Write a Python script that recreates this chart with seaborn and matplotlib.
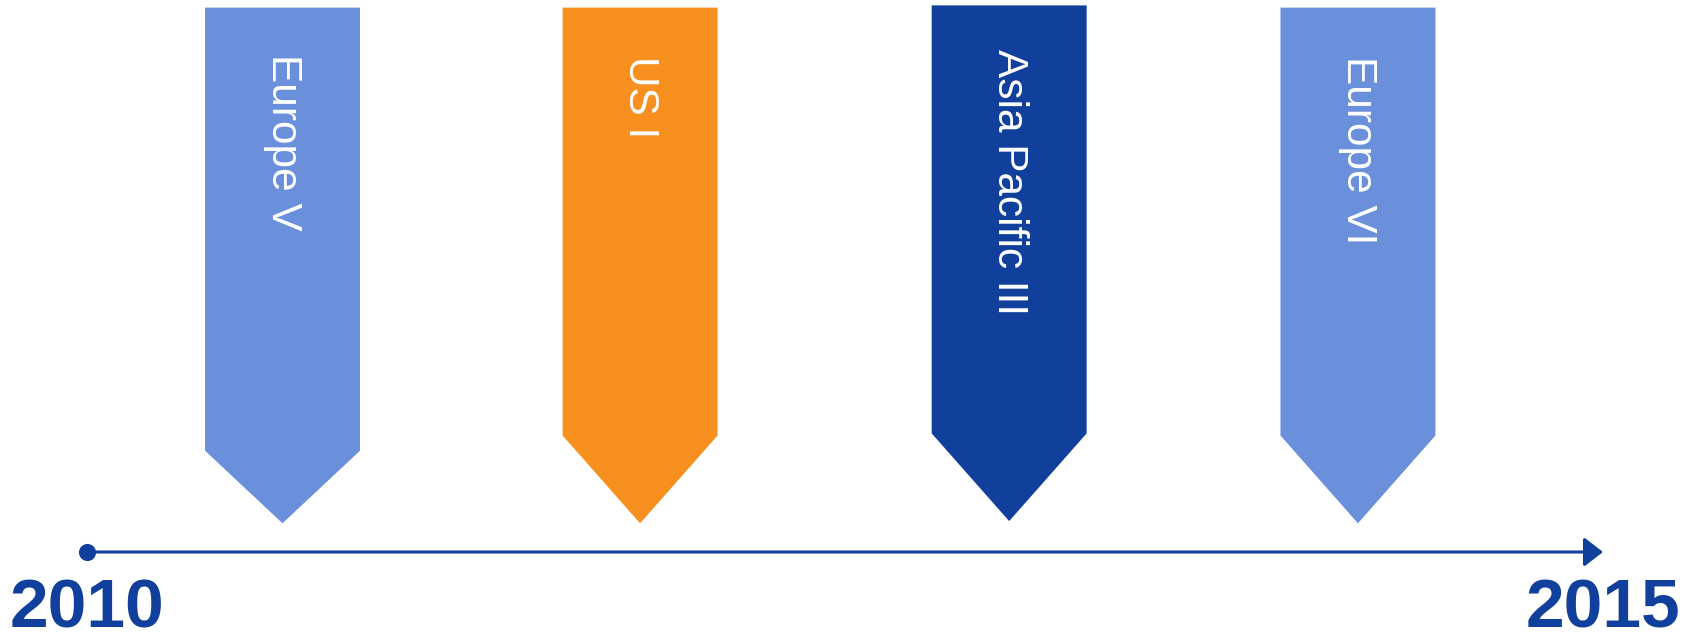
import seaborn as sns
import matplotlib.pyplot as plt

# datos del grafico (x en años, y en profundidad desde arriba)
etiquetas = ['Europe V', 'US I', 'Asia Pacific III', 'Europe VI']
posicion_anio = [2010.646, 2011.825, 2013.042, 2014.192]
colores = ['#6A90DB', '#F7901E', '#11409C', '#6A90DB']
arriba = [7.6, 7.6, 5.4, 7.6]
hombro = [450.7, 435.5, 433.4, 435.5]
punta = [523.3, 523.3, 521.1, 523.3]
inicio_texto = [54, 56, 49, 56]
anio_inicio = 2010
anio_fin = 2015
ancho = 0.511

azul = '#11409C'

sns.set_theme(style='white')
plt.rcParams['font.family'] = ['Liberation Sans', 'DejaVu Sans']

fig = plt.figure(figsize=(16.98, 6.36), dpi=100)
ax = fig.add_axes([0, 0, 1, 1])
# escala: 2010 en el punto, 2015 en la punta de la flecha
px_anio = (1603 - 86.6) / 5
ax.set_xlim(anio_inicio - 86.6 / px_anio, anio_inicio + (1698 - 86.6) / px_anio)
ax.set_ylim(636, 0)
ax.axis('off')

# banderines
for nombre, x, col, a, h, p, t in zip(etiquetas, posicion_anio, colores, arriba, hombro, punta, inicio_texto):
    izq = x - ancho / 2
    der = x + ancho / 2
    ax.fill([izq, der, der, x, izq], [a, a, h, p, h], color=col, lw=0)
    ax.text(x, t, nombre, rotation=-90, ha='center', va='top',
            fontsize=30.5, color='white')

# linea de tiempo
y_linea = 552
ax.annotate('', xy=(anio_fin, y_linea), xytext=(anio_inicio, y_linea),
            arrowprops=dict(arrowstyle='-|>,head_length=0.4,head_width=0.31',
                            mutation_scale=28.8, lw=2.2, color=azul,
                            shrinkA=0, shrinkB=0))
ax.plot([anio_inicio], [y_linea], 'o', color=azul, markersize=11.3)

# años
for anio in [anio_inicio, anio_fin]:
    ax.text(anio, 609, str(anio), ha='center', va='center', fontsize=50,
            fontweight='bold', color=azul)

plt.savefig('out.png', dpi=100)
